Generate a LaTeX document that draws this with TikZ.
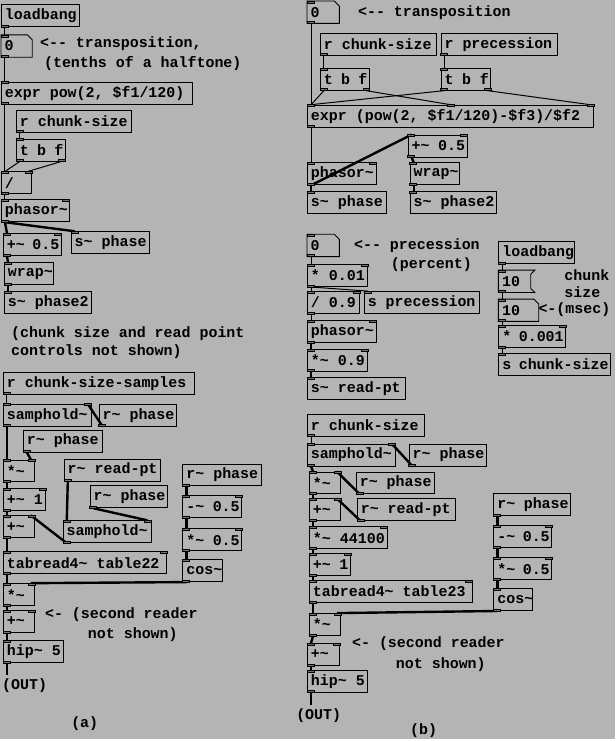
\documentclass[tikz,border=0pt]{standalone}
\usepackage{fontspec}
\newfontfamily\pdmono{Liberation Mono}
\newcommand{\pdfont}{\pdmono\bfseries\fontsize{15}{17}\selectfont}
\newcommand{\tld}{\textasciitilde}
\definecolor{pdbg}{RGB}{180,180,180}

\begin{document}
\begin{tikzpicture}[x=1pt,y=-1pt,
    pdtext/.style={anchor=north west, inner xsep=2pt, inner ysep=0pt,
      minimum height=22pt, font=\pdfont,
      execute at begin node={\hbox to #1pt\bgroup\kern1.5pt},
      execute at end node={\hfil\egroup}},
    obj/.style={pdtext=#1, draw, line width=0.9pt},
    atom/.style={pdtext=#1},
    cmt/.style={anchor=west, inner sep=0pt, font=\pdfont},
    ctl/.style={line width=1pt},
    sig/.style={line width=2.4pt},
    port/.style={draw, fill=black!55, line width=0.5pt}]
  \fill[pdbg] (0,0) rectangle (617,741);

  % (a) transposition and phase
  \node[obj=74] (lbA) at (1,4) {loadbang};
  \node[atom=27] (numA) at (1,35) {0};
  \node[cmt] (cTransA) at (40,44) {<-{}- transposition,};
  \node[cmt] (cTenths) at (44,64) {(tenths of a halftone)};
  \node[obj=188] (exprA) at (1,82) {expr pow(2, \$f1/120)};
  \node[obj=111] (rcsA) at (16,110) {r chunk-size};
  \node[obj=45] (tbfA) at (16,139) {t b f};
  \node[obj=26] (divA) at (1,172) {/};
  \node[obj=64] (phA) at (1,200) {phasor\tld};
  \node[obj=54] (addA) at (3,234) {+\tld{} 0.5};
  \node[obj=74] (sphA) at (71,232) {s\tld{} phase};
  \node[obj=45] (wrapA) at (4,263) {wrap\tld};
  \node[obj=83] (sph2A) at (4,292) {s\tld{} phase2};
  \node[cmt] (cCtl1) at (11,335) {(chunk size and read point};
  \node[cmt] (cCtl2) at (11,353) {controls not shown)};

  % (a) reader
  \node[obj=188] (rcssA) at (3,373) {r chunk-size-samples};
  \node[obj=84] (shA) at (3,405) {samphold\tld};
  \node[obj=74] (rphA1) at (99,405) {r\tld{} phase};
  \node[obj=75] (rphA2) at (23,431) {r\tld{} phase};
  \node[obj=27] (mulA) at (3,461) {*\tld};
  \node[obj=93] (rrpA) at (64,460) {r\tld{} read-pt};
  \node[obj=38] (add1A) at (3,490) {+\tld{} 1};
  \node[obj=74] (rphA3) at (90,487) {r\tld{} phase};
  \node[obj=27] (addA2) at (3,517) {+\tld};
  \node[obj=84] (sh2A) at (63,522) {samphold\tld};
  \node[obj=160] (tabA) at (3,553) {tabread4\tld{} table22};
  \node[obj=75] (rphA4) at (183,465) {r\tld{} phase};
  \node[obj=55] (subA) at (183,497) {-\tld{} 0.5};
  \node[obj=55] (mul2A) at (183,530) {*\tld{} 0.5};
  \node[obj=36] (cosA) at (183,561) {cos\tld};
  \node[obj=27] (mul3A) at (3,585) {*\tld};
  \node[obj=27] (add3A) at (3,612) {+\tld};
  \node[cmt] (cSecA1) at (45,617) {<- (second reader};
  \node[cmt] (cSecA2) at (88,637) {not shown)};
  \node[obj=56] (hipA) at (3,642) {hip\tld{} 5};
  \coordinate (outA) at (7,677);
  \node[cmt] (cOutA) at (2,688) {(OUT)};
  \node[font=\pdfont] (capA) at (85,726) {(a)};

  % (b) transposition and precession
  \node[atom=28] (numB) at (308,1) {0};
  \node[cmt] (cTransB) at (359,13) {<-{}- transposition};
  \node[obj=112] (rcsB) at (321,33) {r chunk-size};
  \node[obj=113] (rprB) at (442,33) {r precession};
  \node[obj=45] (tbfB1) at (321,68) {t b f};
  \node[obj=46] (tbfB2) at (442,68) {t b f};
  \node[obj=283] (exprB) at (308,105) {expr (pow(2, \$f1/120)-\$f3)/\$f2};
  \node[obj=55] (addB) at (409,135) {+\tld{} 0.5};
  \node[obj=65] (phB) at (308,163) {phasor\tld};
  \node[obj=45] (wrapB) at (411,163) {wrap\tld};
  \node[obj=75] (sphB) at (308,192) {s\tld{} phase};
  \node[obj=83] (sph2B) at (411,192) {s\tld{} phase2};

  \node[atom=28] (numB2) at (308,235) {0};
  \node[cmt] (cPrec1) at (355,246) {<-{}- precession};
  \node[cmt] (cPrec2) at (392,265) {(percent)};
  \node[obj=56] (mB) at (308,265) {* 0.01};
  \node[obj=48] (dB) at (308,292) {/ 0.9};
  \node[obj=111] (sprB) at (365,292) {s precession};
  \node[obj=65] (phB2) at (308,321) {phasor\tld};
  \node[obj=56] (mB2) at (308,350) {*\tld{} 0.9};
  \node[obj=94] (srpB) at (308,378) {s\tld{} read-pt};

  \node[obj=72] (lbB) at (500,242) {loadbang};
  \node[atom=28] (msgB) at (500,271) {10};
  \node[atom=36] (numB3) at (500,300) {10};
  \node[cmt] (cChunk1) at (566,276) {chunk};
  \node[cmt] (cChunk2) at (566,293) {size};
  \node[cmt] (cChunk3) at (540,311) {<-(msec)};
  \node[obj=63] (mB3) at (500,326) {* 0.001};
  \node[obj=108] (scsB) at (500,354) {s chunk-size};

  % (b) reader
  \node[obj=113] (rcsB2) at (308,415) {r chunk-size};
  \node[obj=84] (shB) at (308,445) {samphold\tld};
  \node[obj=74] (rphB1) at (410,445) {r\tld{} phase};
  \node[obj=27] (mulB) at (310,473) {*\tld};
  \node[obj=74] (rphB2) at (357,473) {r\tld{} phase};
  \node[obj=27] (addB2) at (310,500) {+\tld};
  \node[obj=94] (rrpB) at (358,500) {r\tld{} read-pt};
  \node[obj=74] (m44B) at (310,528) {*\tld{} 44100};
  \node[obj=37] (add1B) at (310,555) {+\tld{} 1};
  \node[obj=159] (tabB) at (310,582) {tabread4\tld{} table23};
  \node[obj=73] (rphB3) at (495,495) {r\tld{} phase};
  \node[obj=54] (subB) at (495,527) {-\tld{} 0.5};
  \node[obj=54] (mul2B) at (495,559) {*\tld{} 0.5};
  \node[obj=35] (cosB) at (495,590) {cos\tld};
  \node[obj=27] (mul3B) at (310,615) {*\tld};
  \node[obj=28] (add3B) at (308,645) {+\tld};
  \node[cmt] (cSecB1) at (353,646) {<- (second reader};
  \node[cmt] (cSecB2) at (397,667) {not shown)};
  \node[obj=56] (hipB) at (308,672) {hip\tld{} 5};
  \coordinate (outB) at (312,707);
  \node[cmt] (cOutB) at (297,718) {(OUT)};
  \node[font=\pdfont] (capB) at (425,733) {(b)};

  % number boxes and the message box
  \foreach \n in {numA,numB,numB2,numB3}{%
    \draw[line width=0.9pt] ([xshift=-5pt]\n.north east) -- (\n.north west) -- (\n.south west)
      -- (\n.south east) -- ([yshift=-5pt]\n.north east) -- cycle;}
  \draw[line width=0.9pt] ([xshift=4pt]msgB.north east) -- (msgB.north west) -- (msgB.south west)
    -- ([xshift=4pt]msgB.south east) -- ([yshift=4pt]msgB.south east)
    -- ([yshift=-4pt]msgB.north east) -- cycle;

  % control connections
  \foreach \a/\b in {lbA/numA,numA/exprA,exprA/divA,rcsA/tbfA,tbfA/divA,divA/phA,rcssA/shA,
      numB/exprB,rcsB/tbfB1,rprB/tbfB2,tbfB1/exprB,tbfB2/exprB,exprB/phB,numB2/mB,mB/dB,
      mB/sprB,dB/phB2,lbB/msgB,msgB/numB3,numB3/mB3,mB3/scsB,rcsB2/shB}
    \draw[ctl] ([xshift=4pt]\a.south west) -- ([xshift=4pt]\b.north west);
  \draw[ctl] ([xshift=-4pt]tbfA.south east) -- ([xshift=-4pt]divA.north east);
  \draw[ctl] ([xshift=-4pt]tbfB1.south east) -- (exprB.north);
  \draw[ctl] ([xshift=-4pt]tbfB2.south east) -- ([xshift=-4pt]exprB.north east);

  % signal connections
  \foreach \a/\b in {phA/addA,phA/sphA,addA/wrapA,wrapA/sph2A,shA/mulA,mulA/add1A,add1A/addA2,
      rrpA/sh2A,addA2/tabA,tabA/mul3A,rphA4/subA,subA/mul2A,mul2A/cosA,mul3A/add3A,add3A/hipA,
      phB/sphB,phB/addB,addB/wrapB,wrapB/sph2B,phB2/mB2,mB2/srpB,shB/mulB,mulB/addB2,
      addB2/m44B,m44B/add1B,add1B/tabB,tabB/mul3B,rphB3/subB,subB/mul2B,mul2B/cosB,
      mul3B/add3B,add3B/hipB}
    \draw[sig] ([xshift=4pt]\a.south west) -- ([xshift=4pt]\b.north west);
  \foreach \a/\b in {rphA1/shA,rphA2/mulA,rphA3/sh2A,sh2A/addA2,cosA/mul3A,
      rphB1/shB,rphB2/mulB,rrpB/addB2,cosB/mul3B}
    \draw[sig] ([xshift=4pt]\a.south west) -- ([xshift=-4pt]\b.north east);
  \draw[sig] ([xshift=4pt]hipA.south west) -- (outA);
  \draw[sig] ([xshift=4pt]hipB.south west) -- (outB);

  % inlets and outlets
  \foreach \n in {numA,exprA,tbfA,divA,phA,addA,sphA,wrapA,sph2A,shA,mulA,add1A,addA2,sh2A,
      tabA,subA,mul2A,cosA,mul3A,add3A,hipA,numB,tbfB1,tbfB2,exprB,phB,addB,wrapB,sphB,
      sph2B,numB2,mB,dB,sprB,phB2,mB2,srpB,msgB,numB3,mB3,scsB,shB,mulB,addB2,m44B,add1B,
      tabB,subB,mul2B,cosB,mul3B,add3B,hipB}
    \draw[port] (\n.north west) rectangle ++(7,2);
  \foreach \n in {lbA,numA,exprA,rcsA,tbfA,divA,phA,addA,wrapA,rcssA,shA,rphA1,rphA2,mulA,rrpA,
      add1A,rphA3,addA2,sh2A,tabA,rphA4,subA,mul2A,cosA,mul3A,add3A,hipA,numB,rcsB,rprB,
      tbfB1,tbfB2,exprB,phB,addB,wrapB,numB2,mB,dB,phB2,mB2,lbB,msgB,numB3,mB3,rcsB2,shB,
      rphB1,mulB,rphB2,addB2,rrpB,m44B,add1B,tabB,rphB3,subB,mul2B,cosB,mul3B,add3B,hipB}
    \draw[port] (\n.south west) rectangle ++(7,-2);
  \foreach \n in {divA,phA,addA,shA,mulA,add1A,addA2,sh2A,tabA,subA,mul2A,mul3A,add3A,
      exprB,phB,addB,mB,dB,phB2,mB2,mB3,shB,mulB,addB2,m44B,add1B,tabB,subB,mul2B,mul3B,add3B}
    \draw[port] (\n.north east) rectangle ++(-7,2);
  \foreach \n in {tbfA,tbfB1,tbfB2}
    \draw[port] (\n.south east) rectangle ++(-7,-2);
  \draw[port] ([xshift=-3.5pt]exprB.north) rectangle ++(7,2);
\end{tikzpicture}
\end{document}
